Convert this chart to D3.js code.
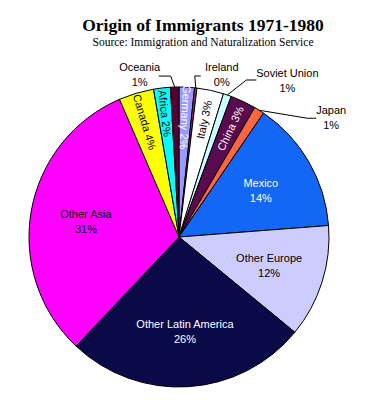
<!DOCTYPE html>
<html lang="en">
<head>
    <meta charset="UTF-8">
    <title>Origin of Immigrants 1971-1980</title>
    <script src="https://d3js.org/d3.v7.min.js"></script>
    <style>
        body{
            margin: 0;
            background-color: white;
        }
        #canvas{
            width: 368px;
            height: 400px;
            display: block;
        }
        .title{
            font-family: "Liberation Serif", serif;
            font-weight: bold;
            font-size: 17.5px;
        }
        .subtitle{
            font-family: "Liberation Serif", serif;
            font-size: 11.5px;
        }
        .lbl{
            font-family: "Liberation Sans", Arial, sans-serif;
            font-size: 11px;
        }
        path.slice{
            stroke: black;
            stroke-width: 1px;
        }
        .leader{
            stroke: black;
            stroke-width: 1px;
            fill: none;
        }
    </style>
</head>
<body>
<svg id="canvas" viewBox="0 0 368 400"></svg>
<script>
    //data: immigrants by origin, 1971-1980 (thousands)
    let categories = ["Germany","Ireland","Italy","Soviet Union","China","Japan","Mexico",
                      "Other Europe","Other Latin America","Other Asia","Canada","Africa","Oceania"];
    let values = [74.4, 11.5, 129.4, 39.0, 124.3, 49.8, 640.3,
                  547.1, 1172.5, 1414.1, 169.9, 80.8, 41.2];
    let palette = ["#9999ff","#993366","#ffffff","#ccffff","#5a0a4e","#ff6640","#1466f4",
                   "#ccccff","#0a0a48","#ff00ff","#ffff00","#00ffff","#550033"];

    let svg = d3.select('svg');
    let cx = 179, cy = 237, radius = 150;

    svg.append('text').attr('class','title')
        .attr('x',203).attr('y',31).attr('text-anchor','middle')
        .text('Origin of Immigrants 1971-1980');
    svg.append('text').attr('class','subtitle')
        .attr('x',203).attr('y',46).attr('text-anchor','middle')
        .text('Source: Immigration and Naturalization Service');

    let total = d3.sum(values);
    let rows = categories.map((c,i) => ({name:c, value:values[i], pct:Math.round(values[i]/total*100)+"%"}));
    let color = d3.scaleOrdinal().domain(categories).range(palette);

    let pie = d3.pie().sort(null).value(d => d.value);
    let arcs = pie(rows);
    let arc = d3.arc().innerRadius(0).outerRadius(radius);

    let g = svg.append('g').attr('transform','translate('+cx+','+cy+')');
    g.selectAll('path')
        .data(arcs)
        .enter()
        .append('path')
        .attr('class','slice')
        .attr('d',arc)
        .attr('fill',d => color(d.data.name));

    // how each label is placed
    let inside = {"Mexico":"white","Other Europe":"black","Other Latin America":"white","Other Asia":"black"};
    let rotated = {"Germany":["in","white"],"Italy":["out","black"],"China":["out","white"],
                   "Canada":["in","black"],"Africa":["in","black"]};
    // leader line: bend, end and text point relative to the slice edge
    let leaders = {
        "Oceania":{bend:[-4,-11], end:[-16,-11], text:[-35,-16], anchor:'middle'},
        "Ireland":{bend:[-1,-12], end:[5,-12], text:[26,-17], anchor:'middle'},
        "Soviet Union":{bend:[19,-15], end:[29,-15], text:[60,-18], anchor:'middle'},
        "Japan":{bend:[48,8], end:[57,8], text:[72,4], anchor:'middle'}
    };

    let mid = d => (d.startAngle + d.endAngle)/2;
    let polar = (a,r) => [r*Math.sin(a), -r*Math.cos(a)];

    arcs.forEach(function(d){
        let name = d.data.name;
        let a = mid(d);
        if (inside[name]){
            let p = polar(a, radius*0.63);
            let t = g.append('text').attr('class','lbl')
                .attr('text-anchor','middle')
                .attr('fill',inside[name])
                .attr('transform','translate('+p[0]+','+p[1]+')');
            t.append('tspan').attr('x',0).attr('y',-3).text(name);
            t.append('tspan').attr('x',0).attr('y',12).text(d.data.pct);
        } else if (rotated[name]){
            let r = name == "Africa" ? radius*0.83 : radius*0.8;
            let p = polar(a, r);
            let deg = a*180/Math.PI;
            let rot = rotated[name][0] == "in" ? deg + 90 : deg - 90;
            g.append('text').attr('class','lbl')
                .attr('text-anchor','middle')
                .attr('dominant-baseline','central')
                .attr('fill',rotated[name][1])
                .attr('transform','translate('+p[0]+','+p[1]+') rotate('+rot+')')
                .text(name+' '+d.data.pct);
        } else if (leaders[name]){
            let L = leaders[name];
            let e = polar(a, radius);
            let line = d3.line();
            g.append('path').attr('class','leader')
                .attr('d',line([e,[e[0]+L.bend[0],e[1]+L.bend[1]],[e[0]+L.end[0],e[1]+L.end[1]]]));
            let t = g.append('text').attr('class','lbl')
                .attr('text-anchor',L.anchor)
                .attr('transform','translate('+(e[0]+L.text[0])+','+(e[1]+L.text[1])+')');
            t.append('tspan').attr('x',0).attr('y',0).text(name);
            t.append('tspan').attr('x',0).attr('y',15).text(d.data.pct);
        }
    });
</script>
</body>
</html>
